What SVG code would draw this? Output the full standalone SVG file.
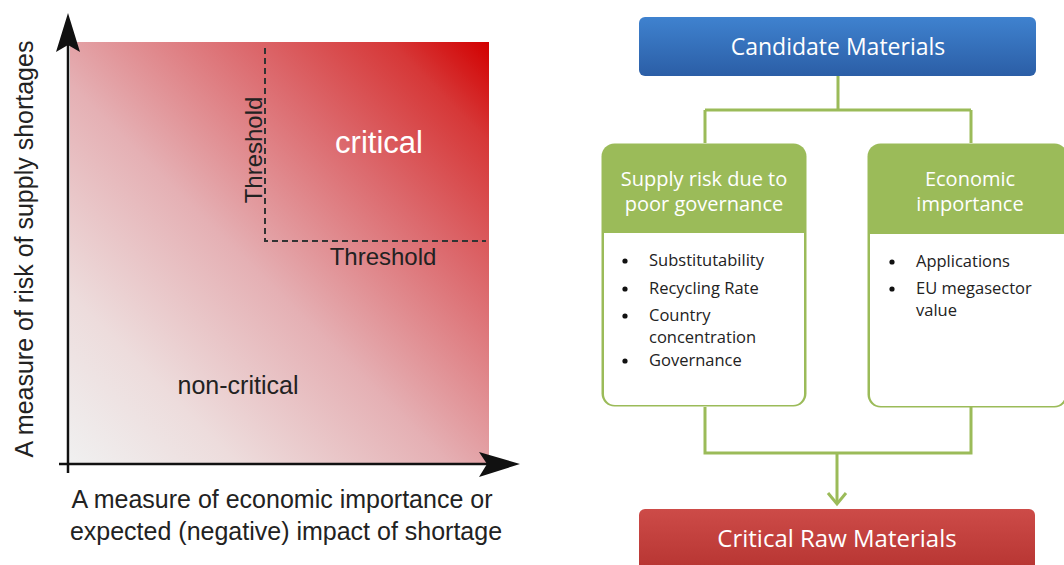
<svg xmlns="http://www.w3.org/2000/svg" width="1064" height="565" viewBox="0 0 1064 565">
<defs>
<linearGradient id="heat" x1="0" y1="1" x2="1" y2="0">
<stop offset="0" stop-color="#f0f0f0"/>
<stop offset="0.2" stop-color="#eddcdc"/>
<stop offset="0.45" stop-color="#e5b0b4"/>
<stop offset="0.7" stop-color="#dc6a6e"/>
<stop offset="0.88" stop-color="#d63838"/>
<stop offset="1" stop-color="#d20000"/>
</linearGradient>
<linearGradient id="blue" x1="0" y1="0" x2="0" y2="1">
<stop offset="0" stop-color="#3f82cf"/>
<stop offset="1" stop-color="#2b5ea6"/>
</linearGradient>
<linearGradient id="red" x1="0" y1="0" x2="0" y2="1">
<stop offset="0" stop-color="#cd4b48"/>
<stop offset="1" stop-color="#b53330"/>
</linearGradient>
<style>
.ax{stroke:#111;stroke-width:2.5;fill:none}
.dash{stroke:#333;stroke-width:2;stroke-dasharray:6 4;fill:none}
.lbl{font-family:"Liberation Sans",Arial,sans-serif;fill:#222}
.fc{font-family:"Open Sans","Noto Sans",sans-serif}
.wt{fill:#fff;text-anchor:middle}
.bt{fill:#222;font-size:16.5px}
.conn{stroke:#9bbb59;stroke-width:3;fill:none}
</style>
</defs>
<rect width="1064" height="565" fill="#fff"/>

<g id="chart">
<rect x="70" y="42" width="419" height="421" fill="url(#heat)"/>
<path class="dash" d="M265,48 V241 H486"/>
<path class="ax" d="M68,473 V44"/>
<path d="M68,13 L80,52 L68,45 L56,52 Z" fill="#111"/>
<path class="ax" d="M59,464 H500"/>
<path d="M520,464 L479,452 L487,464 L479,477 Z" fill="#111"/>
<text class="lbl" x="0" y="0" font-size="24" text-anchor="middle" transform="translate(262,150) rotate(-90)">Threshold</text>
<text class="lbl" x="383" y="265" font-size="24" text-anchor="middle">Threshold</text>
<text class="lbl" x="379" y="153" font-size="31" text-anchor="middle" style="fill:#fff">critical</text>
<text class="lbl" x="238" y="394" font-size="25" text-anchor="middle">non-critical</text>
<text class="lbl" x="0" y="0" font-size="25" text-anchor="middle" transform="translate(33,249) rotate(-90)">A measure of risk of supply shortages</text>
<text class="lbl" x="282" y="508" font-size="25" text-anchor="middle">A measure of economic importance or</text>
<text class="lbl" x="286" y="540" font-size="25" text-anchor="middle">expected (negative) impact of shortage</text>
</g>

<g id="connectors">
<path class="conn" d="M838,76 V110 M705,110 H971 M705,110 V143 M971,110 V143"/>
<path class="conn" d="M705,407 V453 H971 V407 M837,453 V504"/>
<path class="conn" d="M828,493 L837,504 L846,493"/>
</g>

<g id="candidate">
<rect x="639" y="17" width="397" height="59" rx="6" fill="url(#blue)"/>
<text class="fc wt" x="838" y="55" font-size="23">Candidate Materials</text>
</g>

<g id="supply-risk">
<rect x="601.5" y="143.5" width="205" height="263" rx="13" fill="#9bbb59"/>
<path d="M604,233 H804 V394 a11,11 0 0 1 -11,11 H615 a11,11 0 0 1 -11,-11 Z" fill="#fff"/>
<text class="fc wt" x="704" y="186" font-size="20">Supply risk due to</text>
<text class="fc wt" x="704" y="211" font-size="20">poor governance</text>
<g class="fc bt">
<circle cx="625" cy="261" r="2.6" fill="#111"/>
<text x="649" y="266">Substitutability</text>
<circle cx="625" cy="289" r="2.6" fill="#111"/>
<text x="649" y="294">Recycling Rate</text>
<circle cx="625" cy="316" r="2.6" fill="#111"/>
<text x="649" y="321">Country</text>
<text x="649" y="343">concentration</text>
<circle cx="625" cy="361" r="2.6" fill="#111"/>
<text x="649" y="366">Governance</text>
</g>
</g>

<g id="economic">
<rect x="867.5" y="143.5" width="200" height="264" rx="13" fill="#9bbb59"/>
<path d="M870,234 H1065 V395 a11,11 0 0 1 -11,11 H881 a11,11 0 0 1 -11,-11 Z" fill="#fff"/>
<text class="fc wt" x="970" y="186" font-size="20">Economic</text>
<text class="fc wt" x="970" y="211" font-size="20">importance</text>
<g class="fc bt">
<circle cx="892" cy="262" r="2.6" fill="#111"/>
<text x="916" y="267">Applications</text>
<circle cx="892" cy="289" r="2.6" fill="#111"/>
<text x="916" y="294">EU megasector</text>
<text x="916" y="316">value</text>
</g>
</g>

<g id="critical-raw">
<rect x="639" y="509" width="396" height="66" rx="6" fill="url(#red)"/>
<text class="fc wt" x="837" y="547" font-size="24">Critical Raw Materials</text>
</g>
</svg>
